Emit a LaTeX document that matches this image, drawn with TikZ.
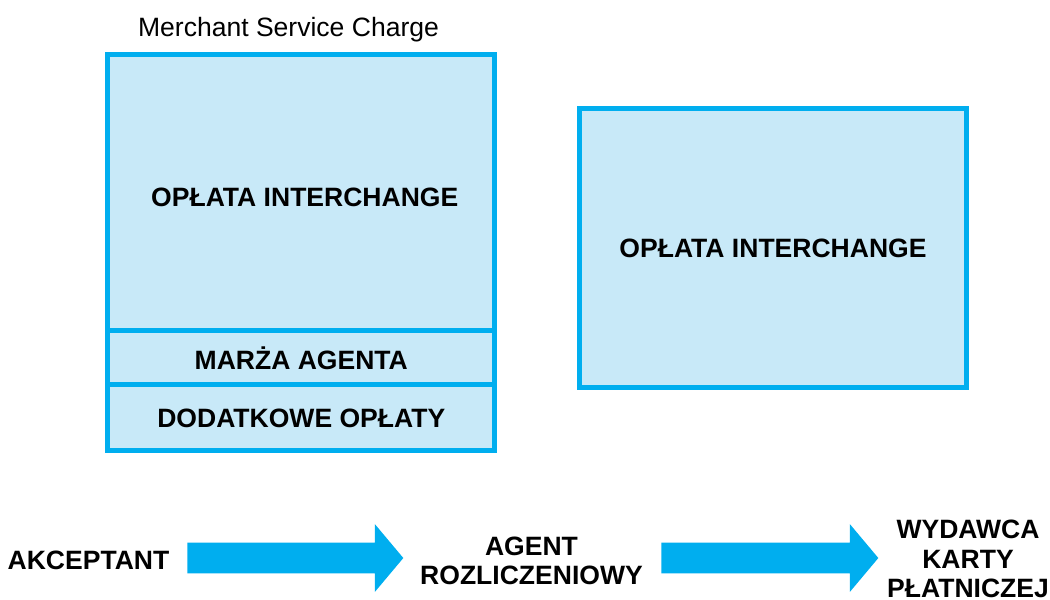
\documentclass[tikz,border=0pt]{standalone}
\usepackage{fontspec}
\setmainfont{Liberation Sans}
\usetikzlibrary{positioning,shapes.arrows}
\definecolor{feeline}{HTML}{00AEEF}
\definecolor{feefill}{HTML}{C8E9F8}

\begin{document}
\begin{tikzpicture}[
    x=0.02cm, y=-0.02cm,
    part/.style={draw=feeline, fill=feefill, line width=2.85pt, outer sep=0pt,
                 align=center, font=\fontsize{15.1}{16.8}\selectfont\bfseries},
    party/.style={align=center, inner sep=0pt,
                  font=\fontsize{15.1}{16.8}\selectfont\bfseries},
    flow/.style={single arrow, fill=feeline, draw=none, inner xsep=0pt,
                 inner ysep=0.3cm, minimum height=4.32cm,
                 single arrow head extend=0.37cm, single arrow tip angle=100}]
  \useasboundingbox (0,0) rectangle (1050,599);

  % merchant service charge split into three parts
  \node[part, minimum width=7.75cm, minimum height=5.54cm] (ic) at (301.25,192.5)
    {\raisebox{-2.8pt}[\height][\depth]{\hspace{4pt}OPŁATA INTERCHANGE}};
  \node[part, minimum width=7.75cm, minimum height=1.08cm, below=0pt of ic] (margin)
    {MARŻA AGENTA};
  \node[part, minimum width=7.75cm, minimum height=1.32cm, below=0pt of margin] (extra)
    {DODATKOWE OPŁATY};
  \node[font=\fontsize{15.1}{16.8}\selectfont] (msc) at (288.5,30) {Merchant Service Charge};

  % what the issuer gets
  \node[part, minimum width=7.76cm, minimum height=5.58cm] (ic2) at (773,248)
    {OPŁATA INTERCHANGE};

  % parties and the flow between them
  \node[party] (acq) at (88.5,560) {AKCEPTANT};
  \node[party] (agent) at (531.5,561) {AGENT\\ROZLICZENIOWY};
  \node[party] (issuer) at (968,559) {WYDAWCA\\KARTY\\PŁATNICZEJ};
  \node[flow, anchor=tail] (f1) at (187,558) {};
  \node[flow, anchor=tail, minimum height=4.34cm] (f2) at (661,558) {};
\end{tikzpicture}
\end{document}
